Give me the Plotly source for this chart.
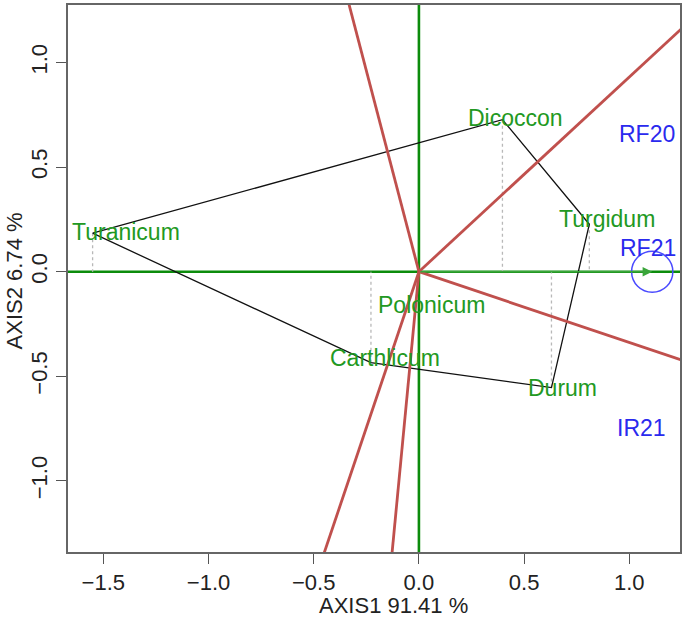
import plotly.graph_objects as go

# genotipos (coordenadas no biplot)
genotipos = ['Turanicum', 'Dicoccon', 'Turgidum', 'Durum', 'Carthlicum', 'Polonicum']
gen_x = [-1.551, 0.397, 0.810, 0.630, -0.228, 0.000]
gen_y = [0.184, 0.727, 0.227, -0.554, -0.435, -0.155]
poligono = ['Turanicum', 'Dicoccon', 'Turgidum', 'Durum', 'Carthlicum', 'Turanicum']

# ambientes
ambientes = ['RF20', 'RF21', 'IR21']
amb_x = [1.083, 1.091, 1.060]
amb_y = [0.656, 0.113, -0.749]

# ambiente medio (circulo) e linhas dos setores
centro_x, centro_y, raio = 1.109, 0.0, 0.098
setor_x = [-0.351, 1.300, 1.300, -0.133, -0.469]
setor_y = [1.350, 1.210, -0.440, -1.400, -1.400]

x_ticks = [-1.5, -1.0, -0.5, 0.0, 0.5, 1.0]
y_ticks = [-1.0, -0.5, 0.0, 0.5, 1.0]

VERDE = '#0c8c0c'
VERMELHO = '#c0504d'
AZUL = '#2a2aee'
FONTE = 'Liberation Sans, Arial, sans-serif'

fig = go.Figure()

# linhas pontilhadas ate o eixo
px_, py_ = [], []
for x, y in zip(gen_x[:5], gen_y[:5]):
    px_ += [x, x, None]
    py_ += [y, 0, None]
fig.add_trace(go.Scatter(x=px_, y=py_, mode='lines',
                         line=dict(color='#b8b8b8', width=1.3, dash='dot'),
                         hoverinfo='skip'))

# poligono
idx = [genotipos.index(g) for g in poligono]
fig.add_trace(go.Scatter(x=[gen_x[i] for i in idx], y=[gen_y[i] for i in idx],
                         mode='lines', line=dict(color='#111111', width=1.3),
                         hoverinfo='skip'))

# linhas dos setores
sx, sy = [], []
for x, y in zip(setor_x, setor_y):
    sx += [0, x, None]
    sy += [0, y, None]
fig.add_trace(go.Scatter(x=sx, y=sy, mode='lines',
                         line=dict(color=VERMELHO, width=2.8), hoverinfo='skip'))

# eixos verdes
fig.add_shape(type='line', xref='paper', x0=0, x1=1, y0=0, y1=0,
              line=dict(color=VERDE, width=2.6), layer='below')
fig.add_shape(type='line', yref='paper', y0=0, y1=1, x0=0, x1=0,
              line=dict(color=VERDE, width=2.6), layer='below')

# circulo do ambiente
fig.add_shape(type='circle', x0=centro_x - raio, x1=centro_x + raio,
              y0=centro_y - raio, y1=centro_y + raio,
              line=dict(color='#4a4aff', width=1.5))

# seta
fig.add_annotation(x=centro_x, y=centro_y, ax=0, ay=0, axref='x', ayref='y',
                   showarrow=True, arrowhead=2, arrowsize=1.2, arrowwidth=1.6,
                   arrowcolor='#3aa53a', text='')

# rotulos dos genotipos
desloc_x = [33, 13, 18, 11, 14, 13]
desloc_y = [1, 2, 5, 0, 5, -1]
for g, x, y, dx, dy in zip(genotipos, gen_x, gen_y, desloc_x, desloc_y):
    fig.add_annotation(x=x, y=y, text=g, showarrow=False, xshift=dx, yshift=dy,
                       font=dict(size=23, color='#229922', family=FONTE))

# rotulos dos ambientes
for a, x, y in zip(ambientes, amb_x, amb_y):
    fig.add_annotation(x=x, y=y, text=a, showarrow=False,
                       font=dict(size=23, color=AZUL, family=FONTE))

# titulos dos eixos
fig.add_annotation(xref='paper', yref='paper', x=0.532, y=-0.098, yanchor='middle',
                   text='AXIS1 91.41 %', showarrow=False,
                   font=dict(size=22, color='#222222', family=FONTE))
fig.add_annotation(xref='paper', yref='paper', x=-0.088, y=0.495, xanchor='center',
                   text='AXIS2 6.74 %', showarrow=False, textangle=-90,
                   font=dict(size=22, color='#222222', family=FONTE))

eixo = dict(showgrid=False, zeroline=False, showline=True, mirror=True,
            linecolor='#666666', linewidth=1.5, ticks='outside', ticklen=10,
            tickcolor='#555555', tickwidth=1.3, tickformat='.1f',
            tickfont=dict(size=22, color='#222222', family=FONTE))

fig.update_layout(
    width=685, height=619, autosize=False,
    margin=dict(l=68, r=4, t=3, b=67),
    plot_bgcolor='white', paper_bgcolor='white',
    showlegend=False,
    xaxis=dict(range=[-1.668, 1.241], tickvals=x_ticks, **eixo),
    yaxis=dict(range=[-1.34, 1.275], tickvals=y_ticks, tickangle=-90, **eixo),
)

fig.write_html('out.html', config={'displayModeBar': False},
               post_script='document.body.style.margin="0px";')
